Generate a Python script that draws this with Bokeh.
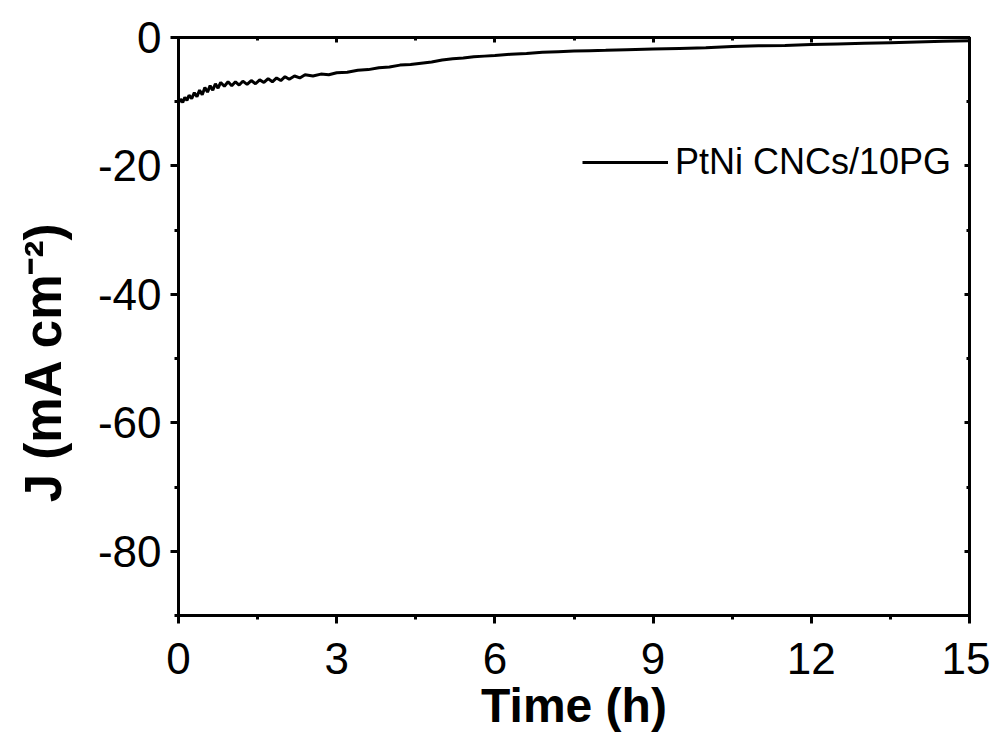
from bokeh.plotting import figure
from bokeh.models import (Range1d, LinearAxis, SingleIntervalTicker, FixedTicker,
                          Legend, LegendItem)
from bokeh.embed import file_html
from bokeh.resources import INLINE

# ---- data ----
time_h = [0.00, 0.04, 0.08, 0.12, 0.16, 0.20, 0.25, 0.30, 0.35, 0.40, 0.45,
          0.50, 0.55, 0.60, 0.65, 0.70, 0.75, 0.80, 0.87, 0.94, 1.01, 1.08,
          1.15, 1.22, 1.30, 1.38, 1.46, 1.54, 1.62, 1.70, 1.78, 1.86, 1.94,
          2.02, 2.10, 2.20, 2.30, 2.40, 2.55, 2.70, 2.85, 3.00, 3.20, 3.40,
          3.60, 3.80, 4.00, 4.20, 4.40, 4.60, 4.80, 5.00, 5.20, 5.40, 5.60,
          5.80, 6.00, 6.30, 6.60, 6.90, 7.20, 7.50, 7.80, 8.10, 8.50, 9.00,
          9.50, 10.00, 10.50, 11.00, 11.50, 12.00, 12.50, 13.00, 13.50,
          14.00, 14.50, 15.00]
current_j = [-10.2, -9.6, -10.1, -9.3, -9.8, -9.0, -9.5, -8.6, -9.2, -8.2, -8.9,
             -7.8, -8.5, -7.5, -8.2, -7.2, -7.9, -7.0, -7.6, -6.9, -7.5, -6.9,
             -7.4, -6.8, -7.3, -6.7, -7.2, -6.6, -7.0, -6.4, -6.9, -6.3, -6.7,
             -6.1, -6.5, -6.0, -6.3, -5.8, -6.0, -5.7, -5.8, -5.5, -5.4, -5.1,
             -5.0, -4.7, -4.6, -4.3, -4.2, -4.0, -3.8, -3.5, -3.3, -3.2, -3.0,
             -2.9, -2.8, -2.6, -2.5, -2.3, -2.2, -2.1, -2.05, -2.0, -1.9, -1.8,
             -1.7, -1.6, -1.4, -1.3, -1.25, -1.1, -1.0, -0.9, -0.8,
             -0.7, -0.6, -0.5]
series_name = "PtNi CNCs/10PG"
x_label = "Time (h)"
y_label = "J (mA cm\u207b\u00b2)" + "\u00a0" * 5
y_tick_labels = {0: "0", -20: "-20", -40: "-40", -60: "-60", -80: "-80"}

FONT = "Liberation Sans"

p = figure(width=990, height=738,
           x_range=Range1d(0, 15), y_range=Range1d(-90, 0),
           output_backend="svg", toolbar_location=None,
           min_border_left=178, min_border_right=21,
           min_border_top=37, min_border_bottom=123,
           x_axis_location=None, y_axis_location=None)
p.grid.visible = False
p.outline_line_color = "black"
p.outline_line_width = 3
p.background_fill_color = "white"
p.border_fill_color = "white"


def style(ax, out=True):
    ax.axis_line_width = 3
    ax.axis_line_color = "black"
    ax.major_tick_line_width = 3
    ax.minor_tick_line_width = 3
    ax.major_tick_line_color = "black"
    ax.minor_tick_line_color = "black"
    if out:
        ax.major_tick_out = 8
        ax.major_tick_in = 0
        ax.minor_tick_out = 4
        ax.minor_tick_in = 0
        ax.major_label_text_font = FONT
        ax.major_label_text_font_size = "44px"
        ax.major_label_text_color = "black"
    else:
        ax.major_tick_out = 0
        ax.major_tick_in = 5
        ax.minor_tick_out = 0
        ax.minor_tick_in = 3
        ax.major_label_text_font_size = "1px"
        ax.major_label_text_color = None
        ax.major_label_standoff = 0


xb = LinearAxis(ticker=SingleIntervalTicker(interval=3, num_minor_ticks=2))
style(xb)
xb.major_label_standoff = 19
xb.axis_label = x_label
xb.axis_label_text_font = FONT
xb.axis_label_text_font_size = "48px"
xb.axis_label_text_font_style = "bold"
xb.axis_label_text_color = "black"
xb.axis_label_standoff = 2
p.add_layout(xb, "below")

yl = LinearAxis(ticker=SingleIntervalTicker(interval=20, num_minor_ticks=2))
style(yl)
yl.major_label_standoff = 9
yl.major_label_overrides = y_tick_labels
p.add_layout(yl, "left")

# label-only axis
ylab = LinearAxis(ticker=FixedTicker(ticks=[]))
ylab.axis_line_color = None
ylab.major_tick_line_color = None
ylab.minor_tick_line_color = None
ylab.major_label_text_font_size = "1px"
ylab.major_label_text_color = None
ylab.major_label_standoff = 0
ylab.axis_label = y_label
ylab.axis_label_text_font = FONT
ylab.axis_label_text_font_size = "51px"
ylab.axis_label_text_font_style = "bold"
ylab.axis_label_text_color = "black"
ylab.axis_label_standoff = 23
p.add_layout(ylab, "left")

xt = LinearAxis(ticker=SingleIntervalTicker(interval=3, num_minor_ticks=2))
style(xt, out=False)
p.add_layout(xt, "above")

yr = LinearAxis(ticker=SingleIntervalTicker(interval=20, num_minor_ticks=2))
style(yr, out=False)
p.add_layout(yr, "right")

r = p.line(time_h, current_j, line_width=3, line_color="black")

legend = Legend(items=[LegendItem(label=series_name, renderers=[r])],
                location=(404, 432), border_line_color=None,
                background_fill_alpha=0, padding=0, margin=0,
                glyph_width=86, glyph_height=40, label_height=40,
                label_standoff=7, label_text_font=FONT,
                label_text_font_size="36px", label_text_color="black")
p.add_layout(legend)

open("out.html", "w").write(file_html(p, INLINE))
